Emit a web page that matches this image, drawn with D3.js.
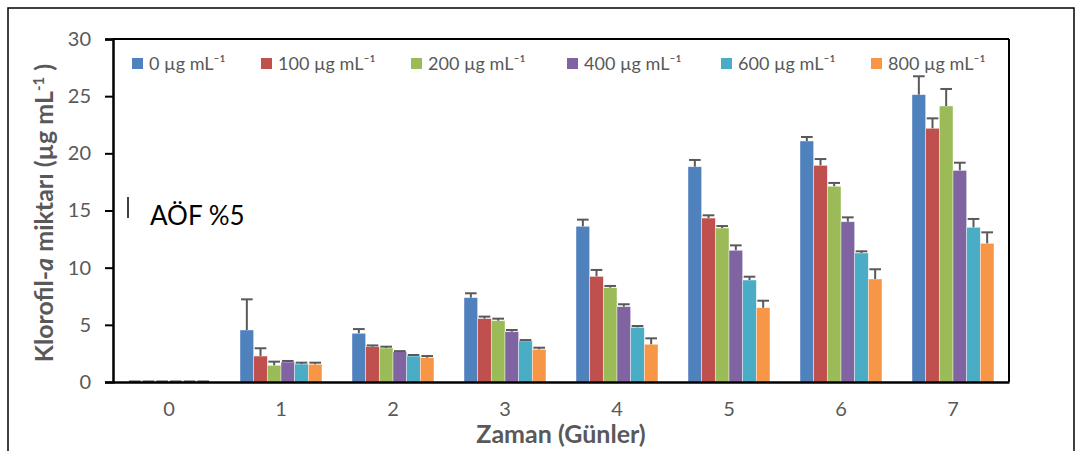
<!DOCTYPE html>
<html>
<head>
<meta charset="utf-8">
<title>Klorofil-a</title>
<script src="https://d3js.org/d3.v7.min.js"></script>
<style>
  body { margin: 0; background: #fff; }
  text { font-family: Lato, "Open Sans", sans-serif; }
</style>
</head>
<body>
<div id="chart"></div>
<script>
// days on the x axis
var days = ["0", "1", "2", "3", "4", "5", "6", "7"];
var seriesNames = ["0 µg mL⁻¹", "100 µg mL⁻¹", "200 µg mL⁻¹", "400 µg mL⁻¹", "600 µg mL⁻¹", "800 µg mL⁻¹"];
var colors = ["#4F81BD", "#C0504D", "#9BBB59", "#8064A2", "#4BACC6", "#F79646"];
var yTicks = [0, 5, 10, 15, 20, 25, 30];

// mean values per series, one per day
var v0   = [0.03, 4.55, 4.26, 7.38, 13.62, 18.83, 21.08, 25.13];
var v100 = [0.03, 2.27, 3.09, 5.54, 9.24, 14.34, 18.95, 22.19];
var v200 = [0.03, 1.46, 2.97, 5.36, 8.25, 13.47, 17.12, 24.14];
var v400 = [0.03, 1.75, 2.65, 4.40, 6.59, 11.52, 14.02, 18.51];
var v600 = [0.03, 1.57, 2.27, 3.59, 4.78, 8.92, 11.28, 13.53];
var v800 = [0.03, 1.55, 2.13, 2.86, 3.30, 6.50, 9.01, 12.13];

// error bars (upper only)
var e0   = [0.02, 2.68, 0.37, 0.38, 0.58, 0.59, 0.35, 1.61];
var e100 = [0.02, 0.68, 0.11, 0.18, 0.56, 0.24, 0.55, 0.87];
var e200 = [0.02, 0.32, 0.12, 0.18, 0.15, 0.17, 0.29, 1.49];
var e400 = [0.02, 0.09, 0.05, 0.15, 0.21, 0.43, 0.38, 0.67];
var e600 = [0.02, 0.12, 0.09, 0.08, 0.12, 0.29, 0.15, 0.73];
var e800 = [0.02, 0.14, 0.14, 0.14, 0.52, 0.61, 0.85, 0.96];

var values = [v0, v100, v200, v400, v600, v800];
var errors = [e0, e100, e200, e400, e600, e800];

var W = 1078, H = 451;
var mLeft = 113, mRight = 1009, mTop = 39, mBottom = 382;

var svg = d3.select("#chart").append("svg")
  .attr("width", W).attr("height", H);

// outer chart frame
svg.append("rect")
  .attr("x", 8).attr("y", 8)
  .attr("width", 1066).attr("height", 470)
  .attr("fill", "none").attr("stroke", "#000").attr("stroke-width", 1.5);

var x0 = d3.scaleBand().domain(days).range([mLeft, mRight])
  .paddingInner(0.268).paddingOuter(0.134);
var x1 = d3.scaleBand().domain(d3.range(seriesNames.length))
  .range([0, x0.bandwidth()]);
var y = d3.scaleLinear().domain([0, 30]).range([mBottom, mTop]);

// bars
var rows = [];
days.forEach(function(d, i) {
  values.forEach(function(s, j) {
    rows.push({ day: d, s: j, v: s[i], e: errors[j][i] });
  });
});

var g = svg.append("g");
g.selectAll("rect.bar").data(rows).enter().append("rect")
  .attr("class", "bar")
  .attr("x", function(d) { return x0(d.day) + x1(d.s); })
  .attr("width", x1.bandwidth())
  .attr("y", function(d) { return y(d.v); })
  .attr("height", function(d) { return y(0) - y(d.v); })
  .attr("fill", function(d) { return colors[d.s]; })
  .attr("stroke", "rgba(255,255,255,0.6)")
  .attr("stroke-width", 0.7);

// error bars
var eb = g.selectAll("g.err").data(rows).enter().append("g").attr("class", "err");
eb.append("line")
  .attr("x1", function(d) { return x0(d.day) + x1(d.s) + x1.bandwidth() / 2; })
  .attr("x2", function(d) { return x0(d.day) + x1(d.s) + x1.bandwidth() / 2; })
  .attr("y1", function(d) { return y(d.v); })
  .attr("y2", function(d) { return y(d.v + d.e); })
  .attr("stroke", "#595959").attr("stroke-width", 2);
eb.append("line")
  .attr("x1", function(d) { return x0(d.day) + x1(d.s) + 1; })
  .attr("x2", function(d) { return x0(d.day) + x1(d.s) + x1.bandwidth() - 1; })
  .attr("y1", function(d) { return y(d.v + d.e); })
  .attr("y2", function(d) { return y(d.v + d.e); })
  .attr("stroke", "#595959").attr("stroke-width", 2);

// plot frame
svg.append("line").attr("x1", mLeft).attr("x2", mRight).attr("y1", mTop).attr("y2", mTop)
  .attr("stroke", "#000").attr("stroke-width", 2);
svg.append("line").attr("x1", mRight).attr("x2", mRight).attr("y1", mTop).attr("y2", mBottom)
  .attr("stroke", "#000").attr("stroke-width", 2);

// y axis
var yAxis = svg.append("g")
  .attr("transform", "translate(" + mLeft + ",0)")
  .call(d3.axisLeft(y).tickValues(yTicks).tickSize(8).tickPadding(14));
yAxis.select(".domain").attr("stroke", "#000").attr("stroke-width", 2.5);
yAxis.selectAll(".tick line").attr("stroke", "#000").attr("stroke-width", 2);
yAxis.selectAll(".tick text").attr("fill", "#595959")
  .style("font-size", "20px").style("font-family", "Lato, sans-serif");

// x axis
var xAxis = svg.append("g")
  .attr("transform", "translate(0," + mBottom + ")")
  .call(d3.axisBottom(x0).tickSize(0).tickPadding(20));
xAxis.select(".domain").attr("stroke", "#000").attr("stroke-width", 2.5);
xAxis.selectAll(".tick text").attr("fill", "#595959")
  .style("font-size", "20px").style("font-family", "Lato, sans-serif");

// axis titles
svg.append("text")
  .attr("x", (mLeft + mRight) / 2).attr("y", 443)
  .attr("text-anchor", "middle")
  .attr("fill", "#595959")
  .style("font-size", "25px").style("font-weight", "bold")
  .text("Zaman (Günler)");

var yt = svg.append("text")
  .attr("transform", "translate(53,213) rotate(-90)")
  .attr("text-anchor", "middle")
  .attr("fill", "#595959")
  .style("font-size", "25px").style("font-weight", "bold");
yt.append("tspan").text("Klorofil-");
yt.append("tspan").style("font-style", "italic").text("a");
yt.append("tspan").text(" miktarı (µg mL");
yt.append("tspan").attr("dy", -9).style("font-size", "15px").text("-1");
yt.append("tspan").attr("dy", 9).text(" )");

// legend
var legendX = [132, 261, 411, 567, 721, 871];
var lg = svg.selectAll("g.leg").data(seriesNames).enter().append("g")
  .attr("class", "leg")
  .attr("transform", function(d, i) { return "translate(" + legendX[i] + ",58)"; });
lg.append("rect").attr("width", 11).attr("height", 11)
  .attr("fill", function(d, i) { return colors[i]; });
lg.append("text").attr("x", 17).attr("y", 12)
  .attr("fill", "#595959")
  .style("font-size", "18px")
  .text(function(d) { return d; });

// LSD annotation
svg.append("line").attr("x1", 128).attr("x2", 128).attr("y1", 197).attr("y2", 218)
  .attr("stroke", "#000").attr("stroke-width", 1.5);
svg.append("text").attr("x", 150).attr("y", 225)
  .attr("fill", "#000")
  .style("font-size", "26px")
  .text("AÖF %5");
</script>
</body>
</html>
